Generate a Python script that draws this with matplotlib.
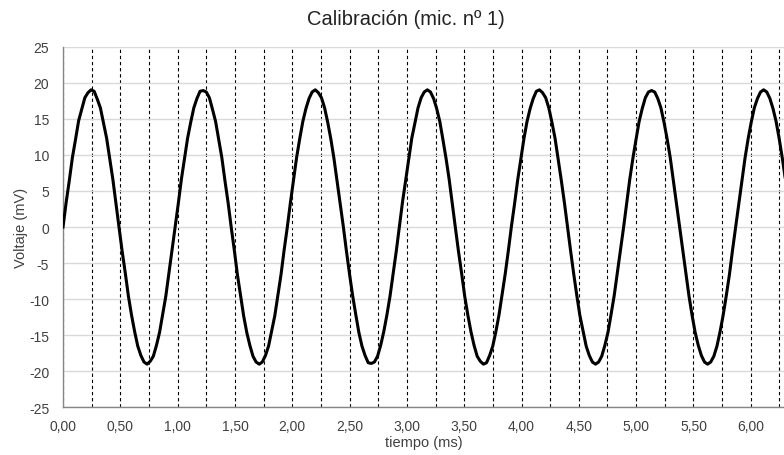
import numpy as np
import matplotlib
matplotlib.use("Agg")
import matplotlib.pyplot as plt
from matplotlib.ticker import MultipleLocator, FuncFormatter

plt.rcParams['font.family'] = ['Liberation Sans', 'DejaVu Sans']
plt.rcParams['axes.unicode_minus'] = False

# sampling interval of the recorded signal (ms)
dt = 0.027167

# recorded voltage (mV), one row per half period
voltage = [
    0.0, 3.4, 6.4, 9.6, 12.1, 14.7, 16.3, 17.9, 18.6, 19.0, 18.8, 17.7, 16.5, 14.4, 12.3, 9.4, 6.6, 3.2,
    -0.1, -3.4, -6.4, -9.6, -12.2, -14.5, -16.5, -17.8, -18.7, -19.0, -18.6, -17.9, -16.4, -14.6, -12.1, -9.6, -6.4, -3.3,
    0.1, 3.2, 6.6, 9.4, 12.3, 14.5, 16.5, 17.8, 18.8, 18.9, 18.7, 17.9, 16.3, 14.6, 12.1, 9.6, 6.4, 3.4,
    0.0, -3.2, -6.6, -9.4, -12.3, -14.6, -16.4, -17.9, -18.7, -19.0, -18.7, -17.8, -16.5, -14.4, -12.3, -9.4, -6.6, -3.2,
    -0.1, 3.3, 6.5, 9.6, 12.2, 14.6, 16.4, 17.8, 18.7, 19.0, 18.6, 17.9, 16.5, 14.5, 12.2, 9.5, 6.4, 3.3,
    0.1, -3.3, -6.5, -9.5, -12.1, -14.6, -16.5, -17.8, -18.8, -18.9, -18.7, -17.9, -16.4, -14.5, -12.2, -9.6, -6.5, -3.4,
    0.0, 3.4, 6.4, 9.5, 12.3, 14.4, 16.5, 17.9, 18.7, 19.0, 18.7, 17.8, 16.4, 14.6, 12.1, 9.5, 6.6, 3.2,
    -0.1, -3.4, -6.4, -9.6, -12.2, -14.5, -16.4, -17.9, -18.6, -19.0, -18.8, -17.8, -16.5, -14.5, -12.2, -9.4, -6.5, -3.3,
    0.1, 3.2, 6.5, 9.4, 12.2, 14.6, 16.4, 17.8, 18.8, 19.0, 18.6, 17.9, 16.5, 14.5, 12.3, 9.4, 6.5, 3.4,
    0.0, -3.3, -6.5, -9.5, -12.3, -14.4, -16.5, -17.8, -18.7, -19.0, -18.7, -17.9, -16.4, -14.6, -12.1, -9.5, -6.4, -3.3,
    -0.1, 3.3, 6.6, 9.5, 12.1, 14.6, 16.4, 17.9, 18.7, 18.9, 18.7, 17.8, 16.5, 14.5, 12.2, 9.6, 6.4, 3.3,
    0.1, -3.2, -6.5, -9.5, -12.2, -14.6, -16.4, -17.8, -18.7, -19.0, -18.7, -17.9, -16.5, -14.5, -12.2, -9.5, -6.6, -3.2,
    0.0, 3.3, 6.5, 9.5, 12.2, 14.5, 16.5, 17.8, 18.7, 19.0, 18.7, 17.8, 16.4, 14.6, 12.2, 9.5, 6.5,
]
tiempo = np.arange(len(voltage)) * dt

fig = plt.figure(figsize=(7.84, 4.56), dpi=100)
ax = fig.add_axes([0.0804, 0.1042, 0.9196, 0.7916])

ax.plot(tiempo, voltage, color='black', lw=2.2, zorder=3)

ax.set_xlim(0, 6.29)
ax.set_ylim(-25, 25)
ax.xaxis.set_major_locator(MultipleLocator(0.5))
ax.xaxis.set_minor_locator(MultipleLocator(0.25))
ax.yaxis.set_major_locator(MultipleLocator(5))
ax.xaxis.set_major_formatter(FuncFormatter(lambda v, p: f"{v:.2f}".replace('.', ',')))
ax.yaxis.set_major_formatter(FuncFormatter(lambda v, p: f"{v:.0f}"))

ax.grid(axis='y', color='#d9d9d9', lw=1.0, zorder=0)
ax.grid(axis='x', which='both', color='black', lw=0.8, ls=(0, (3, 2.5)), zorder=1)

for s in ['top', 'right']:
    ax.spines[s].set_visible(False)
for s in ['left', 'bottom']:
    ax.spines[s].set_color('#868686')
    ax.spines[s].set_linewidth(1.0)

ax.tick_params(axis='x', which='both', length=0, labelsize=10, labelcolor='#404040', pad=8)
ax.tick_params(axis='y', length=0, labelsize=10, labelcolor='#404040', pad=10)

ax.set_xlabel('tiempo (ms)', fontsize=10.5, color='#404040', labelpad=2)
ax.set_ylabel('Voltaje (mV)', fontsize=10.5, color='#404040', labelpad=1)
fig.suptitle('Calibración (mic. nº 1)', fontsize=14.5, color='#222222', x=0.518, y=0.977)

fig.savefig('out.png', dpi=100)
